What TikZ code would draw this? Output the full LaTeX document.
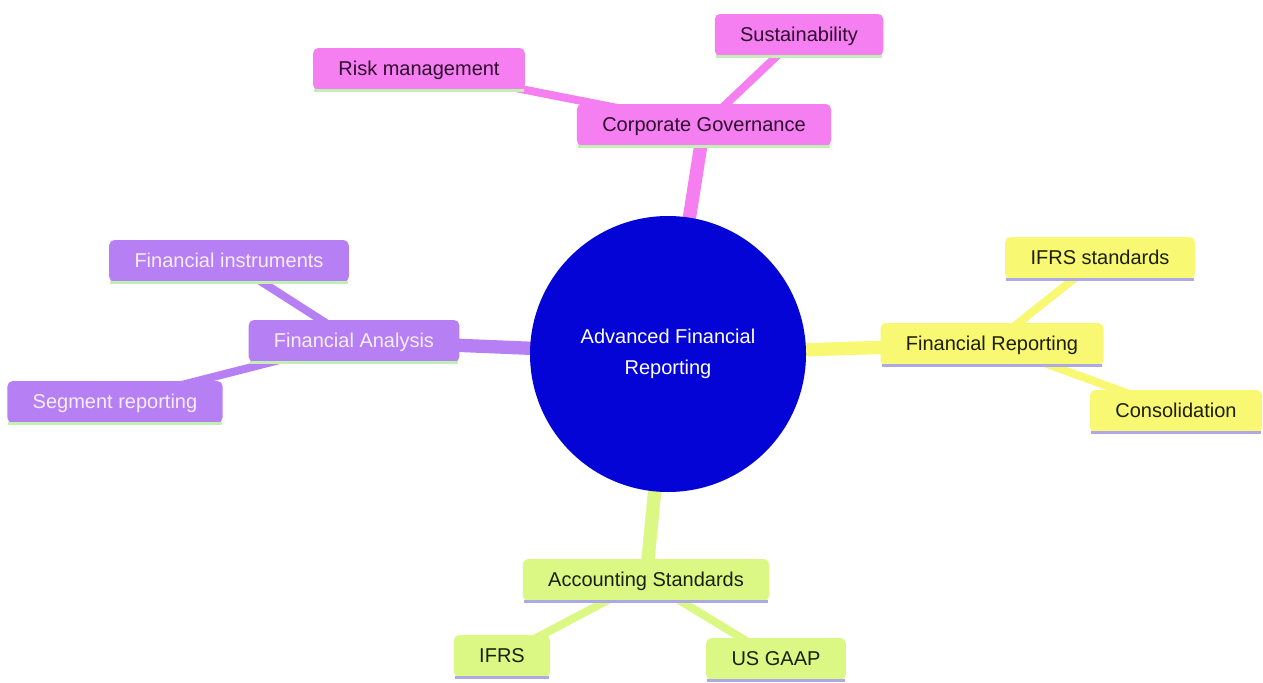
\documentclass[tikz,border=0pt]{standalone}
\usepackage{fontspec}
\setmainfont{Liberation Sans}
\usepackage{tikz}
\usetikzlibrary{backgrounds}
\usepackage{xcolor}
\definecolor{govfill}{HTML}{F57FF0}
\definecolor{govtext}{HTML}{2E0A2E}
\definecolor{anafill}{HTML}{B77FF4}
\definecolor{anatext}{HTML}{F6EEFF}
\definecolor{repfill}{HTML}{F8F872}
\definecolor{reptext}{HTML}{1E1E06}
\definecolor{stdfill}{HTML}{DCF884}
\definecolor{stdtext}{HTML}{16220A}
\definecolor{rootfill}{HTML}{0404D6}
\definecolor{mintline}{HTML}{C2F0B4}
\definecolor{lavline}{HTML}{ADA8E6}

\tikzset{
  topic/.style n args={3}{rectangle,rounded corners=4pt,fill=#1,text=#2,
    inner xsep=19pt,inner ysep=0pt,minimum height=31.5pt,text depth=0.5pt,
    font=\fontsize{15}{18}\selectfont,
    append after command={(\tikzlastnode.south west) edge[draw=#3,line width=2pt,shorten <=1pt,shorten >=1pt] (\tikzlastnode.south east)}},
  trunk/.style={draw=#1,line width=10pt},
  twig/.style={draw=#1,line width=6pt}
}

\begin{document}
\begin{tikzpicture}[x=0.75pt,y=-0.75pt]
		\useasboundingbox (0,0) rectangle (1263,682);

		\node[circle,fill=rootfill,text=white,minimum size=207pt,align=center,
		  font=\fontsize{15}{23}\selectfont]
		(root) at (668,354) 	{Advanced Financial\\Reporting};

		% corporate governance
		\node[topic={govfill}{govtext}{mintline}]
		(gov) at (704,125) 		{Corporate Governance};
		\node[topic={govfill}{govtext}{mintline}]
		(sust) at (799,35) 		{Sustainability};
		\node[topic={govfill}{govtext}{mintline}]
		(risk) at (419,69) 		{Risk management};

		% financial analysis
		\node[topic={anafill}{anatext}{mintline}]
		(ana) at (354,341) 		{Financial Analysis};
		\node[topic={anafill}{anatext}{mintline}]
		(instr) at (229,261) 	{Financial instruments};
		\node[topic={anafill}{anatext}{mintline}]
		(segm) at (115,402) 	{Segment reporting};

		% financial reporting
		\node[topic={repfill}{reptext}{lavline}]
		(rep) at (992,344) 		{Financial Reporting};
		\node[topic={repfill}{reptext}{lavline}]
		(ifrsstd) at (1100,258) {IFRS standards};
		\node[topic={repfill}{reptext}{lavline}]
		(cons) at (1176,411) 	{Consolidation};

		% accounting standards
		\node[topic={stdfill}{stdtext}{lavline}]
		(std) at (646,580) 		{Accounting Standards};
		\node[topic={stdfill}{stdtext}{lavline}]
		(ifrs) at (502,656) 	{IFRS};
		\node[topic={stdfill}{stdtext}{lavline}]
		(gaap) at (776,659) 	{US GAAP};

		\begin{scope}[on background layer]
		\fill[white] (0,0) rectangle (1263,682);
		\path (root.center) edge[trunk=govfill] (gov.center);
		\path (root.center) edge[trunk=anafill] (ana.center);
		\path (root.center) edge[trunk=repfill] (rep.center);
		\path (root.center) edge[trunk=stdfill] (std.center);
		\path (gov.center) edge[twig=govfill] (sust.center);
		\path (gov.center) edge[twig=govfill] (risk.center);
		\path (ana.center) edge[twig=anafill] (instr.center);
		\path (ana.center) edge[twig=anafill] (segm.center);
		\path (rep.center) edge[twig=repfill] (ifrsstd.center);
		\path (rep.center) edge[twig=repfill] (cons.center);
		\path (std.center) edge[twig=stdfill] (ifrs.center);
		\path (std.center) edge[twig=stdfill] (gaap.center);
		\end{scope}
\end{tikzpicture}
\end{document}
